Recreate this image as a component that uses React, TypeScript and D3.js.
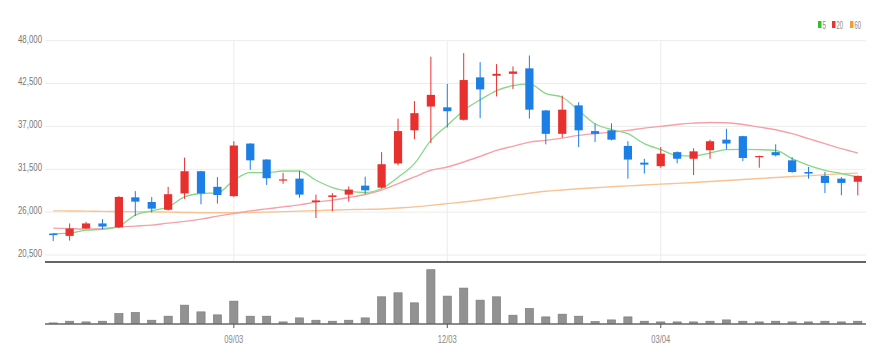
import React from 'react';
import * as d3 from 'd3';

const categories = [
  '06/18', '06/25', '07/02', '07/09', '07/16', '07/23', '07/30', '08/06', '08/13', '08/20',
  '08/27', '09/03', '09/10', '09/17', '09/24', '10/01', '10/08', '10/15', '10/22', '10/29',
  '11/05', '11/12', '11/19', '11/26', '12/03', '12/10', '12/17', '12/24', '12/31', '01/07',
  '01/14', '01/21', '01/28', '02/04', '02/11', '02/18', '02/25', '03/04', '03/11', '03/18',
  '03/25', '04/01', '04/08', '04/15', '04/22', '04/29', '05/06', '05/13', '05/20', '05/27',
];

const openP = [23250, 22950, 23900, 24550, 24050, 27900, 27300, 26300, 28400, 31250, 29250, 28050, 34800, 32750, 30100, 30300, 27300, 27950, 28250, 29400, 29150, 32250, 36500, 39550, 39450, 37850, 43300, 43500, 43750, 44450, 39050, 36050, 39700, 36400, 36500, 34500, 32350, 31900, 33700, 32850, 33950, 35300, 35750, 33050, 33700, 32650, 31150, 30650, 30300, 29900];
const highP = [23300, 24550, 24750, 25100, 28050, 28700, 27950, 29250, 33000, 31300, 30500, 35100, 34850, 32800, 31050, 31300, 28250, 28450, 29300, 30550, 33700, 38000, 40250, 45950, 42450, 46400, 45250, 45000, 44700, 46100, 39100, 40950, 40100, 37350, 37400, 35100, 32850, 34350, 33800, 34200, 35300, 36700, 35800, 33250, 34700, 33050, 31800, 31150, 30500, 30700];
const lowP = [22300, 22350, 23850, 23800, 23950, 25500, 25950, 26200, 27700, 27000, 27100, 27950, 31450, 29500, 29650, 27850, 25250, 26100, 27350, 28300, 29050, 32000, 35350, 34850, 36850, 37750, 38050, 40850, 41800, 38000, 34700, 35550, 34350, 35000, 35200, 30300, 30950, 31700, 32250, 30750, 32850, 34050, 32550, 31700, 33150, 31050, 30300, 28450, 28150, 28150];
const closeP = [23050, 23900, 24550, 24150, 27950, 27350, 26450, 28300, 31250, 28400, 28200, 34550, 32650, 30350, 30200, 28250, 27500, 28150, 28900, 28800, 32150, 36400, 38700, 41050, 38950, 42950, 41750, 43750, 44050, 39150, 36050, 39150, 36500, 36050, 35300, 32750, 32100, 33500, 32850, 33800, 35100, 34800, 32950, 33200, 33300, 31150, 30950, 29750, 29750, 30650];

const volumes = [24, 92, 64, 92, 400, 440, 132, 292, 732, 464, 344, 892, 292, 292, 64, 224, 132, 92, 132, 224, 1064, 1224, 824, 2144, 1092, 1412, 932, 1064, 332, 600, 264, 372, 292, 80, 144, 264, 92, 64, 64, 64, 92, 144, 92, 64, 92, 64, 64, 92, 64, 92];

const ma5 = [23250, 23314, 23698, 23787, 24209, 25616, 26166, 26678, 27957, 28392, 28468, 30093, 31077, 31077, 31282, 31282, 30093, 29159, 28686, 28519, 29031, 30476, 32229, 35209, 37127, 39046, 40414, 41604, 42243, 42461, 41220, 40747, 39046, 37345, 36577, 36066, 34786, 34019, 33290, 33200, 33584, 34019, 34057, 34019, 33930, 32868, 32011, 31372, 30949, 30515];
const ma20 = [23953, 23889, 23825, 23889, 24081, 24209, 24337, 24593, 24810, 25104, 25488, 25833, 26166, 26422, 26678, 26933, 27279, 27535, 27880, 28264, 28814, 29671, 30515, 31372, 31794, 32433, 33162, 33930, 34441, 34991, 35209, 35503, 35848, 36066, 36270, 36488, 36782, 36999, 37255, 37421, 37511, 37473, 37255, 36910, 36577, 36066, 35426, 34786, 34147, 33584];
const ma60 = [26166, 26150, 26128, 26100, 26077, 26064, 26038, 26000, 25960, 25930, 25920, 25930, 25960, 26000, 26060, 26130, 26200, 26268, 26320, 26358, 26409, 26537, 26678, 26870, 27087, 27304, 27560, 27854, 28148, 28430, 28686, 28839, 28993, 29121, 29249, 29364, 29479, 29594, 29696, 29811, 29939, 30054, 30182, 30310, 30438, 30566, 30668, 30796, 30924, 31013];

const yTicks = [20500, 26000, 31500, 37000, 42500, 48000];
const xTickLabels = ['09/03', '12/03', '03/04'];

const legendItems = [
  { label: '5', color: '#2fbf2f' },
  { label: '20', color: '#e83434' },
  { label: '60', color: '#f0a030' },
];

const UP = '#e8312e';
const DOWN = '#1b7fe6';

export default function App() {
  const W = 885;
  const H = 364;
  const left = 45;
  const right = 866;

  const x = d3.scaleBand<string>().domain(categories).range([left, right]).paddingInner(0.5).paddingOuter(0.25);
  const cx = (i: number) => (x(categories[i]) as number) + x.bandwidth() / 2;
  const y = d3.scaleLinear().domain([20500, 48000]).range([255, 40.7]);
  const yv = d3.scaleLinear().domain([0, d3.max(volumes) as number]).range([323.5, 269.7]);
  const fmt = d3.format(',');

  const mkLine = (arr: number[]) =>
    d3.line<number>().x((_, i) => cx(i)).y((d) => y(d)).curve(d3.curveMonotoneX)(arr) as string;

  const font = '"Liberation Sans", Arial, sans-serif';

  return (
    <svg width={W} height={H} style={{ position: 'absolute', left: 0, top: 0, background: '#fff' }} fontFamily={font}>
      {/* horizontal grid */}
      {yTicks.map((t) => (
        <g key={t}>
          <line x1={left} x2={right} y1={y(t)} y2={y(t)} stroke="#ececec" strokeWidth={1} />
          <text x={42} y={y(t) - 1} textAnchor="end" dominantBaseline="middle" fontSize={11} fill="#777"
            textLength={24} lengthAdjust="spacingAndGlyphs">{fmt(t)}</text>
        </g>
      ))}
      {/* vertical grid */}
      {xTickLabels.map((lab) => (
        <line key={lab} x1={cx(categories.indexOf(lab))} x2={cx(categories.indexOf(lab))} y1={40.7} y2={262}
          stroke="#ececec" strokeWidth={1} />
      ))}
      {/* moving averages */}
      <path d={mkLine(ma60)} fill="none" stroke="#f7c393" strokeWidth={1.4} />
      <path d={mkLine(ma20)} fill="none" stroke="#f4a1a8" strokeWidth={1.4} />
      <path d={mkLine(ma5)} fill="none" stroke="#86d886" strokeWidth={1.3} />
      {/* candles */}
      {categories.map((c, i) => {
        const up = closeP[i] >= openP[i];
        const col = up ? UP : DOWN;
        const top = y(Math.max(openP[i], closeP[i]));
        const bot = y(Math.min(openP[i], closeP[i]));
        return (
          <g key={c}>
            <line x1={cx(i)} x2={cx(i)} y1={y(highP[i])} y2={y(lowP[i])} stroke={col} strokeWidth={1} />
            <rect x={x(c)} y={top} width={x.bandwidth()} height={Math.max(1.2, bot - top)} fill={col} />
          </g>
        );
      })}
      {/* main bottom axis */}
      <line x1={left} x2={right} y1={262} y2={262} stroke="#333" strokeWidth={1.6} />
      {/* volume */}
      {categories.map((c, i) => (
        <rect key={c} x={x(c)} y={yv(volumes[i])} width={x.bandwidth()} height={323.5 - yv(volumes[i])}
          fill="#929292" stroke="#777" strokeWidth={0.6} />
      ))}
      <line x1={left} x2={right} y1={324} y2={324} stroke="#666" strokeWidth={1.5} />
      {xTickLabels.map((lab) => {
        const px = cx(categories.indexOf(lab));
        return (
          <g key={lab}>
            <line x1={px} x2={px} y1={324} y2={328} stroke="#555" strokeWidth={1} />
            <text x={px} y={340} textAnchor="middle" dominantBaseline="middle" fontSize={11} fill="#888"
              textLength={19} lengthAdjust="spacingAndGlyphs">{lab}</text>
          </g>
        );
      })}
      {/* legend */}
      {legendItems.map((it, k) => {
        const lx = [818, 832, 850][k];
        const tw = it.label.length === 1 ? 3.5 : 6.5;
        return (
          <g key={it.label}>
            <rect x={lx} y={21} width={3.5} height={7} fill={it.color} />
            <text x={lx + 4.5} y={28.5} fontSize={10} fill="#888" textLength={tw} lengthAdjust="spacingAndGlyphs">{it.label}</text>
          </g>
        );
      })}
    </svg>
  );
}
